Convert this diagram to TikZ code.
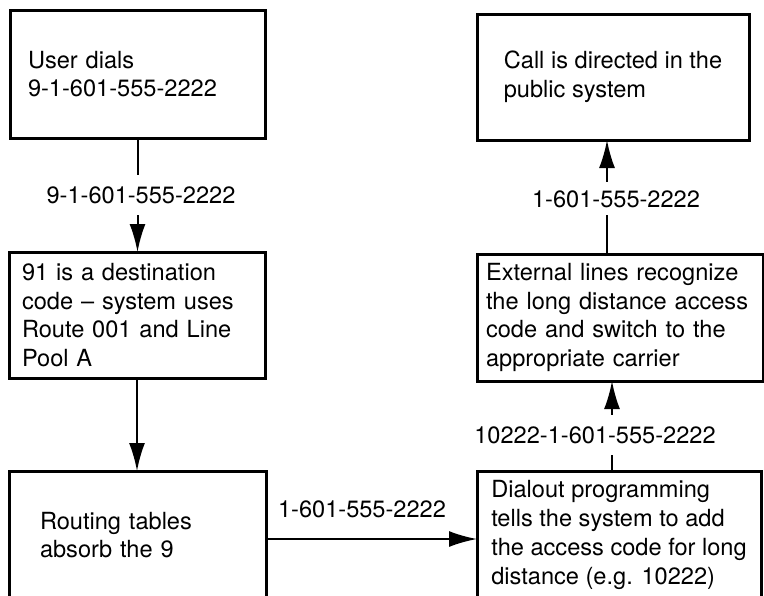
\documentclass[tikz,border=0pt]{standalone}
\usepackage{fontspec}
\setmainfont{TeX Gyre Heros}
\usetikzlibrary{arrows.meta, positioning}

\begin{document}
\begin{tikzpicture}[x=0.5pt, y=-0.5pt,
    font=\fontsize{11.8}{14.4}\selectfont,
    stepbox/.style={draw, line width=1.5pt, anchor=north west, align=left, inner ysep=0pt, outer sep=0pt},
    flow/.style={line width=1pt, -{Latex[length=14pt, width=8pt]}},
    numlabel/.style={fill=white, inner xsep=1pt, inner ysep=5.75pt, anchor=base}]
  \useasboundingbox (0,0) rectangle (764,595);
  % Coluna esquerda
  \node[stepbox, minimum width=127.5pt, minimum height=64pt, inner xsep=9pt, text width=109.5pt] (user) at (10,10)
    {User dials\\9-1-601-555-2222};
  \node[stepbox, minimum width=128pt, minimum height=63pt, inner xsep=6.5pt, text width=115pt] (dest) at (9,252)
    {91 is a destination\\code – system uses\\Route 001 and Line\\Pool A};
  \node[stepbox, minimum width=128.5pt, minimum height=64pt, inner xsep=15.5pt, text width=97.5pt] (routing) at (9,471)
    {Routing tables\\absorb the 9};
  % Coluna direita
  \node[stepbox, minimum width=142pt, minimum height=64pt, inner xsep=4pt] (dialout) at (477,471)
    {Dialout programming\\tells the system to add\\the access code for long\\distance (e.g. 10222)};
  \node[stepbox, minimum width=143pt, minimum height=63.5pt, inner xsep=4.5pt, text width=134pt] (external) at (477,254)
    {External lines recognize\\the long distance access\\code and switch to the\\appropriate carrier};
  \node[stepbox, minimum width=136pt, minimum height=63pt, inner xsep=10pt] (call) at (477,14)
    {Call is directed in the\\public system};
  % Conexoes
  \draw[flow] (user.south) -- (user.south |- dest.north);
  \node[numlabel] (lab1) at (141,203) {9-1-601-555-2222};
  \draw[flow] (dest.south) -- (dest.south |- routing.north);
  \draw[flow] ([yshift=-2pt]routing.east) -- ([yshift=-2pt]routing.east -| dialout.west);
  \node[anchor=base] (lab3) at (362,517) {1-601-555-2222};
  \draw[flow] ([xshift=-3.5pt]dialout.north) -- ([xshift=-3.5pt]dialout.north |- external.south);
  \node[numlabel] (lab4) at (595,443) {10222-1-601-555-2222};
  \draw[flow] ([xshift=-6.5pt]external.north) -- ([xshift=-6.5pt]external.north |- call.south);
  \node[numlabel, inner ysep=4pt] (lab5) at (616,207) {1-601-555-2222};
\end{tikzpicture}
\end{document}
